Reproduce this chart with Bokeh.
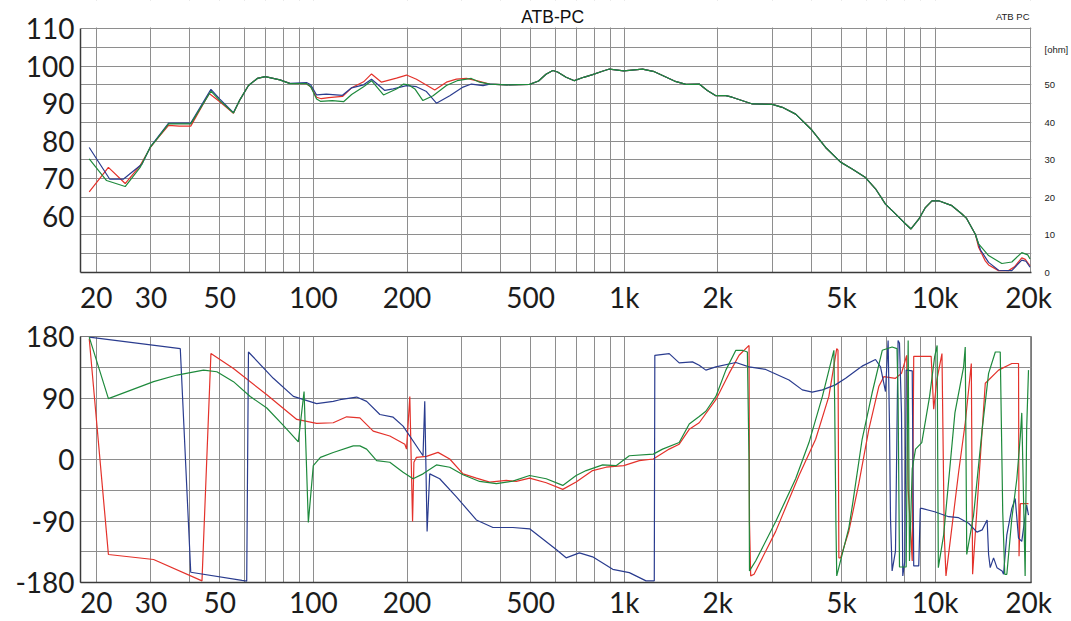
from bokeh.plotting import figure
from bokeh.layouts import column
from bokeh.models import Range1d, LinearAxis, FixedTicker, Label, BoxAnnotation
from bokeh.embed import file_html
from bokeh.resources import INLINE

# ---------------- data ----------------
x_tick_values = [20, 30, 50, 100, 200, 500, 1000, 2000, 5000, 10000, 20000]
x_tick_labels = ["20", "30", "50", "100", "200", "500", "1k", "2k", "5k", "10k", "20k"]
spl_ticks = [60, 70, 80, 90, 100, 110]
ohm_ticks = [0, 10, 20, 30, 40, 50]
ohm_unit = "[ohm]"
phase_ticks = [-180, -90, 0, 90, 180]
phase_labels = ["-180", "-90", "0", "90", "180"]

# magnitude: shared middle part (all three curves coincide here)
common_f = [369, 420, 496, 530, 560, 589, 610, 650, 691, 740, 791, 850, 896, 996, 1145, 1250, 1328,
            1450, 1579, 1742, 1850, 1971, 2122, 2223, 2582, 2995, 3224, 3559, 3977, 4443, 4965, 5410,
            5972, 6430, 6924, 7455, 7925, 8365, 8858, 9306, 9770, 10265, 11325, 12196, 12600, 13470]
common_db = [95.2, 95.0, 95.1, 96.0, 97.8, 98.8, 98.4, 97.0, 96.1, 97.0, 97.7, 98.6, 99.2, 98.7, 99.2,
             98.5, 97.5, 96.0, 95.1, 95.2, 93.5, 92.1, 92.1, 91.7, 89.9, 89.8, 89.0, 87.2, 83.3, 78.3,
             74.4, 72.6, 70.3, 67.3, 63.2, 60.6, 58.4, 56.6, 59.2, 62.3, 64.1, 64.1, 62.8, 60.6, 59.5, 55.2]

red_low_f = [19.0, 21.9, 24.8, 27.7, 29.9, 31.0, 34.2, 37.0, 40.3, 46.2, 50.0, 55.3, 58.0, 61.8, 66.0,
             70.0, 78.0, 84.0, 95.0, 98.0, 102.4, 106, 112, 124, 132.7, 145, 153.8, 165.6, 185, 199.3,
             214.5, 230, 245.6, 267.8, 288.4, 310.6, 334.4]
red_low_db = [66.5, 73.0, 68.7, 73.5, 78.3, 80.0, 84.2, 84.0, 84.0, 92.7, 90.5, 87.4, 91.0, 94.8, 96.7,
              97.2, 96.3, 95.4, 95.3, 94.5, 91.7, 91.3, 91.6, 91.9, 94.2, 95.8, 97.9, 95.7, 96.8, 97.6,
              96.5, 95.0, 93.6, 95.7, 96.5, 96.7, 96.1]
red_high_f = [13800, 14500, 14860, 16000, 17220, 18000, 19000, 19500, 20200]
red_high_db = [51.7, 48.1, 47.0, 45.5, 45.5, 46.5, 48.9, 48.5, 46.8]

blue_low_f = [19.0, 22.1, 24.5, 28.1, 29.9, 31.0, 34.2, 40.3, 46.8, 50.0, 55.3, 58.0, 61.8, 66.0, 70.0,
              78.0, 84.0, 95.0, 98.0, 102.4, 110, 124, 132.7, 145, 153.8, 169.7, 180.5, 199.3, 214.5,
              231, 248.7, 274.5, 302.9, 322.3, 351.2]
blue_low_db = [78.3, 69.9, 69.9, 73.9, 78.5, 80.2, 84.8, 84.8, 93.8, 91.2, 87.6, 91.0, 94.8, 96.7, 97.2,
               96.3, 95.4, 95.6, 95.0, 92.3, 92.5, 92.2, 94.2, 95.0, 96.5, 93.5, 93.9, 94.8, 94.5,
               93.2, 90.1, 92.1, 94.4, 95.2, 94.8]
blue_high_f = [14000, 14860, 16000, 17650, 19000, 19600, 20200]
blue_high_db = [51.0, 47.7, 45.6, 45.5, 48.3, 48.0, 46.4]

green_low_f = [19.0, 21.6, 24.8, 27.7, 29.9, 31.0, 34.2, 40.3, 46.8, 50.0, 55.3, 58.0, 61.8, 66.0, 70.0,
               78.0, 84.0, 95.0, 98.0, 102.4, 105.3, 115, 125, 132.7, 145, 153.8, 168, 185, 195, 202,
               212, 225, 242.6, 267.8, 290, 322, 342.6]
green_low_db = [75.3, 69.5, 67.9, 73.0, 78.5, 80.0, 84.6, 84.6, 93.3, 90.8, 87.5, 91.0, 94.8, 96.7, 97.2,
                96.3, 95.3, 95.3, 94.5, 91.2, 90.6, 90.8, 90.5, 92.4, 94.5, 96.1, 92.3, 93.9, 95.2, 95.0,
                93.9, 90.8, 92.1, 94.8, 96.1, 96.7, 95.7]
green_high_f = [13800, 14860, 16390, 17650, 19000, 19860, 20200]
green_high_db = [52.6, 49.5, 47.4, 47.8, 50.3, 49.7, 48.6]

# phase
blue_ph_f = [19.0, 37.3, 40.3, 58.9, 61.0, 61.8, 74.3, 86.2, 102.4, 115.8,
             121.7, 137.7, 148.3, 163.6, 180.5, 194.3, 225.2, 228.1, 232.1, 236.7,
             254.8, 288.4, 334.3, 378, 438, 496, 604, 650, 717, 791,
             918, 1038, 1175, 1249, 1254, 1395, 1502, 1657, 1742, 1830,
             1971, 2285, 2520, 2851, 3388, 3739, 4025, 4339, 4775, 5154,
             5684, 5824, 6430, 6673, 6837, 6924, 7060, 7135, 7186, 7272,
             7455, 7600, 7680, 7795, 7870, 7990, 8070, 8440, 8535, 8856,
             8960, 9060, 9964, 11054, 11901, 12815, 13630, 14170, 14700, 14860,
             15040, 15418, 15810, 16420, 16600, 17010, 17650, 18100, 18550, 19000,
             19700, 19970]
blue_ph_deg = [179, 162.2, -165, -177, -178, 157.3, 118.8, 92.3, 81.7, 85.1,
               87.5, 91.4, 85.1, 65.8, 61.9, 48.9, 5.5, 85.1, -105.2, -21,
               -28.2, -54.6, -88.5, -99.5, -99.5, -101.4, -131.8, -143.9, -136.6, -142.4,
               -160.7, -165.5, -177.6, -177.6, 152.5, 155, 141.4, 142.9, 138, 130.8,
               135.6, 141.9, 135.6, 131.8, 116.4, 101.9, 98.6, 101.9, 109.2, 118.8,
               133.3, 136.6, 146.3, 135.6, 111.6, 99.5, 174.2, 44, -86.4, -163,
               -134.1, 174.2, 170, 68.2, -170.3, -148.6, 130.8, 129.8, -155.8, -155.8,
               -71.6, -71.6, -76.4, -83.7, -85.1, -93.3, -106.3, -103, -88.5, -139,
               -158.3, -143.9, -158.3, -163, -168, -110.2, -71.6, -57.1, -115, -119.8,
               -66.8, -81.3]

red_ph_f = [19.0, 21.9, 30.6, 43.8, 46.8, 55.3, 70.8, 88.4, 102.4, 115.8,
            127.9, 141.1, 155.7, 176.1, 196.8, 199.3, 204.2, 208.4, 210.5, 214.5,
            231, 251.6, 274.5, 302.9, 334.3, 369, 417.4, 449.3, 496, 561,
            634, 700, 791, 874, 996, 1118, 1240, 1395, 1502, 1618,
            1742, 1971, 2174, 2341, 2520, 2528, 2551, 2615, 3070, 3648,
            4127, 4552, 4825, 4870, 4902, 4965, 5278, 5684, 6120, 6589,
            6837, 7455, 7795, 8100, 8190, 8330, 8440, 8535, 9710, 9895,
            10130, 10520, 10700, 10837, 11901, 12500, 13075, 13200, 14500, 14860,
            16000, 17650, 18550, 18620, 18800, 19970]
red_ph_deg = [176.7, -139, -146.3, -177.6, 155, 133.3, 94.7, 58.6, 52.8, 53.8,
              62.5, 61, 41.6, 34.4, 22.4, 15.2, 92.3, -90.8, -4, 3.1,
              4.6, 10.4, 0.7, -21, -27.2, -33, -30.6, -32.1, -27.2, -34,
              -43.7, -33, -16.2, -11.3, -9, -1.7, 0.7, 15.2, 22.4, 44.1,
              53.8, 87.5, 126, 152.5, 167, -90.8, -170.3, -168, -105.2, -23.4,
              29.6, 92.3, 162.2, 160, -143.9, -143.9, -105, -35, 44.1, 106.7,
              121.2, 118.8, 126, 152.5, -42.6, -100.4, -148.6, 151, 151, 73.6,
              116.4, 155, -110.2, -170.3, -18.6, 53.8, 140.5, -168, 111.6, 116.4,
              130.8, 140.5, 140.5, -141.7, -64.7, -64.7]

green_ph_f = [19.0, 21.9, 30.6, 36.4, 44.3, 48.9, 55.3, 62.6, 70.8, 80.0,
              89.4, 93.3, 96.3, 99.9, 105.3, 115.8, 134.3, 141.1, 148.3, 159.7,
              176.1, 194.3, 209.2, 225.2, 248.7, 274.5, 302.9, 342.6, 387.6, 438,
              496, 561, 634, 700, 754, 852, 941, 1038, 1240, 1328,
              1502, 1618, 1742, 1830, 1971, 2122, 2285, 2399, 2489, 2520,
              2528, 2646, 3070, 3559, 3928, 4339, 4724, 4753, 4795, 4825,
              5278, 5420, 5824, 6270, 6760, 7272, 7540, 7600, 7680, 8070,
              8190, 8270, 8440, 8650, 9060, 9600, 9964, 10150, 10240, 10654,
              11580, 12350, 12500, 12640, 13298, 14170, 14860, 15620, 16200, 16500,
              16750, 17010, 17650, 18320, 18800, 19000, 19480, 19700, 19970]
green_ph_deg = [179, 89, 113.9, 123.6, 130.8, 128.4, 113.9, 92.2, 75.4, 49.9,
                25.7, 99.5, -92, -9, 3.1, 10.3, 19.9, 19.9, 15.2, -1.7,
                -4, -18.6, -28.2, -21, -7.9, -11.3, -22.4, -32.1, -35.4, -31.6,
                -23.4, -28.2, -37.9, -23.4, -16.2, -7.9, -9, 5.5, 7.9, 15.2,
                24.8, 52, 63, 70.6, 92.3, 130.8, 159.8, 159.8, 157.3, -4,
                -163, -148.6, -90.8, -28.2, 24.8, 92.3, 159.8, 78, -90.8, -170.3,
                -100, -66.8, 29.6, 97.3, 159.8, 164.6, 162.2, 92.3, -157.3, -157.3,
                174.2, -148.6, -13.7, 15.2, 24.8, 92.3, 150.1, 167, -158.3, -110.2,
                68.2, 135.6, 164.6, -139, -81.3, 44.1, 126, 157.3, 157.3, -76.4,
                -168, -168, -86.4, -28.2, 34.4, 68.2, -170.3, 44.1, 130.8]

# ---------------- styling / geometry ----------------
RED, BLUE, GREEN = "#e4322b", "#2a3c8f", "#1e8a3c"
TICK_FONT = "Lato"
SMALL_FONT = "Liberation Sans"
GRID_COLOR = "#8e8e8e"
BORDER_COLOR = "#7a7a7a"
X_MIN, X_MAX = 17.81, 20420          # frame edges (px 80 .. 1033)
X_EDGE = 20270                        # right border line of the chart
SPL_LO, SPL_HI, SPL_TOP = 45, 110, 117.46   # frame extends above 110 dB for the title strip
OHM_SCALE_TOP = SPL_TOP - SPL_LO            # ohm scale: 0 at 45 dB, 1 ohm per dB
OHM_UNIT_POS = 59.4

grid_x = [10 * k for k in range(2, 10)] + [100 * k for k in range(1, 10)] + \
         [1000 * k for k in range(1, 10)] + [10000, X_EDGE]
x_overrides = {v: s for v, s in zip(x_tick_values, x_tick_labels)}


def style_axis(a, size="28px", font=TICK_FONT, standoff=6):
    a.major_tick_line_color = None
    a.minor_tick_line_color = None
    a.major_tick_out = 0
    a.major_tick_in = 0
    a.minor_tick_out = 0
    a.minor_tick_in = 0
    a.major_label_text_font = font
    a.major_label_text_font_size = size
    a.major_label_text_color = "#1c1c1c"
    a.major_label_standoff = standoff


def base_figure(height, y_lo, y_hi, top, bottom, outline):
    p = figure(width=1071, height=height, x_axis_type="log",
               x_range=Range1d(X_MIN, X_MAX), y_range=Range1d(y_lo, y_hi),
               output_backend="svg", toolbar_location=None,
               min_border_left=80, min_border_right=38,
               min_border_top=top, min_border_bottom=bottom,
               background_fill_color="white", border_fill_color="white",
               outline_line_color=outline, outline_line_width=1)
    ax = p.xaxis[0]
    ax.ticker = FixedTicker(ticks=x_tick_values)
    ax.major_label_overrides = x_overrides
    for a in (p.xaxis[0], p.yaxis[0]):
        style_axis(a)
        a.axis_line_color = "#3a3a3a"
        a.axis_line_width = 1.5
    p.xgrid[0].ticker = FixedTicker(ticks=grid_x)
    for g in (p.xgrid[0], p.ygrid[0]):
        g.grid_line_color = GRID_COLOR
        g.grid_line_width = 1
    return p


# ---- top: magnitude ----
p1 = base_figure(320, SPL_LO, SPL_TOP, 0, 48, None)
p1.yaxis[0].ticker = FixedTicker(ticks=spl_ticks)
p1.yaxis[0].bounds = (SPL_LO, SPL_HI)
p1.ygrid[0].ticker = FixedTicker(ticks=list(range(50, 111, 5)))
p1.xaxis[0].major_label_standoff = 7
p1.extra_y_ranges = {"ohm": Range1d(0, OHM_SCALE_TOP)}
ohm_axis = LinearAxis(y_range_name="ohm", ticker=FixedTicker(ticks=ohm_ticks + [OHM_UNIT_POS]))
ohm_axis.major_label_overrides = {OHM_UNIT_POS: ohm_unit}
style_axis(ohm_axis, size="9.5px", font=SMALL_FONT, standoff=13)
ohm_axis.axis_line_color = None
p1.add_layout(ohm_axis, "right")

series_mag = [
    (red_low_f + common_f + red_high_f, red_low_db + common_db + red_high_db, RED),
    (blue_low_f + common_f + blue_high_f, blue_low_db + common_db + blue_high_db, BLUE),
    (green_low_f + common_f + green_high_f, green_low_db + common_db + green_high_db, GREEN),
]
for fx, fy, c in series_mag:
    p1.line(fx, fy, line_color=c, line_width=1.2)

# white strip above the chart (hides grid lines there) + texts
p1.add_layout(BoxAnnotation(bottom=SPL_HI + 0.3, fill_color="white", fill_alpha=1.0,
                            line_color=None))
p1.add_layout(Label(x=588, y=113.0, text="ATB-PC", text_align="center", text_baseline="middle",
                    text_font=SMALL_FONT, text_font_size="17.5px", text_color="#111111"))
p1.add_layout(Label(x=20120, y=113.3, text="ATB PC", text_align="right", text_baseline="middle",
                    text_font=SMALL_FONT, text_font_size="9.5px", text_color="#222222"))

# ---- bottom: phase ----
p2 = base_figure(301, -180, 180, 16, 36, BORDER_COLOR)
p2.yaxis[0].ticker = FixedTicker(ticks=phase_ticks)
p2.yaxis[0].major_label_overrides = {v: s for v, s in zip(phase_ticks, phase_labels)}
p2.ygrid[0].ticker = FixedTicker(ticks=[-135, -90, -45, 0, 45, 90, 135])
p2.xaxis[0].major_label_standoff = 2

for fx, fy, c in [(red_ph_f, red_ph_deg, RED), (blue_ph_f, blue_ph_deg, BLUE),
                  (green_ph_f, green_ph_deg, GREEN)]:
    p2.line(fx, fy, line_color=c, line_width=1.2)

layout = column(p1, p2)
with open("out.html", "w") as fh:
    fh.write(file_html(layout, INLINE))
